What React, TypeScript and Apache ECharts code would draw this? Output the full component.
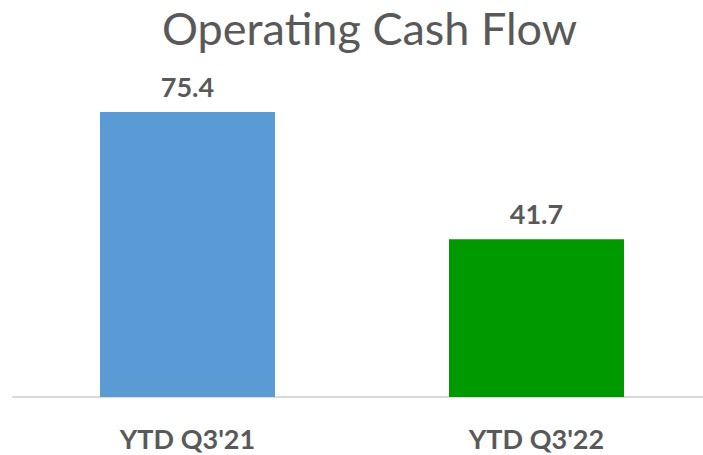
import React, { useEffect, useRef } from "react";
import * as echarts from "echarts";

const categories = ["YTD Q3'21", "YTD Q3'22"];
const values = [75.4, 41.7];
const barColors = ["#5B9BD5", "#009900"];
const titleText = "Operating Cash Flow";

export default function App() {
  const ref = useRef<HTMLDivElement>(null);
  useEffect(() => {
    document.body.style.margin = "0";
    const chart = echarts.init(ref.current!, undefined, { renderer: "svg" });
    chart.setOption({
      animation: false,
      backgroundColor: "#ffffff",
      title: {
        text: titleText,
        left: 162,
        top: 2,
        padding: 0,
        textStyle: {
          fontFamily: "Lato",
          fontWeight: "normal",
          fontSize: 45,
          lineHeight: 52,
          color: "#595959",
        },
      },
      grid: { left: 13, width: 698, bottom: 58, top: 94.5, outerBoundsMode: "none" },
      xAxis: {
        type: "category",
        data: categories,
        axisLine: { lineStyle: { color: "#D9D9D9", width: 2 } },
        axisTick: { show: false },
        axisLabel: {
          fontFamily: "Lato",
          fontWeight: "bold",
          fontSize: 27,
          color: "#595959",
          margin: 28,
        },
      },
      yAxis: {
        type: "value",
        min: 0,
        max: 80,
        show: false,
        splitLine: { show: false },
      },
      series: [
        {
          type: "bar",
          barWidth: 175,
          data: values.map((v, i) => ({ value: v, itemStyle: { color: barColors[i] } })),
          label: {
            show: true,
            position: "top",
            distance: 12,
            fontFamily: "Lato",
            fontWeight: "bold",
            fontSize: 27,
            color: "#595959",
          },
        },
      ],
    });
    return () => chart.dispose();
  }, []);
  return <div ref={ref} style={{ width: 703, height: 455 }} />;
}
